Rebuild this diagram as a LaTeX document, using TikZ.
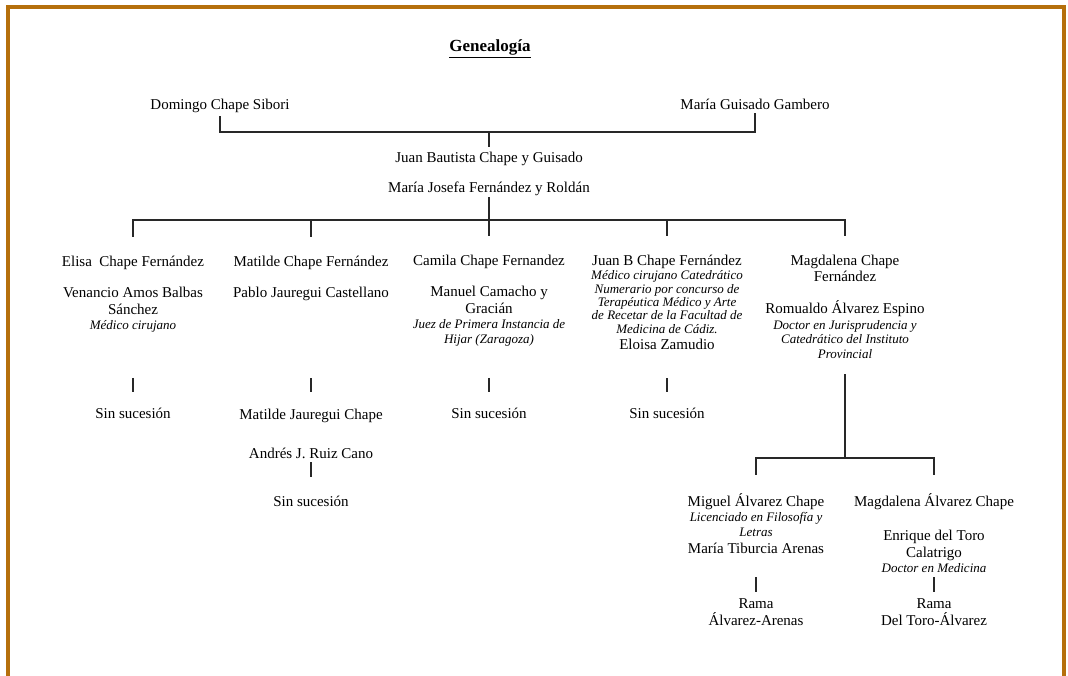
\documentclass[tikz,border=0pt]{standalone}
\usepackage{fontspec}
\setmainfont{Liberation Serif}
\usetikzlibrary{positioning, calc}
\definecolor{framebrown}{RGB}{181,111,12}
\definecolor{inkline}{RGB}{40,40,40}
\tikzset{
  person/.style={font=\fontsize{15}{16.5}\selectfont, align=center,
                 inner sep=1pt, anchor=base},
  note/.style={font=\fontsize{13}{14.5}\selectfont\itshape, align=center,
               inner sep=1pt, anchor=base},
  tie/.style={draw=inkline, line width=1.1pt},
  border/.style={draw=framebrown, line width=4pt}
}

\begin{document}
\begin{tikzpicture}[x=1pt, y=1pt]
  \useasboundingbox (0,0) rectangle (1068,-676);
  \draw[border] (8,-680) -- (8,-7) -- (1063.5,-7) -- (1063.5,-680);

  %% ── Título y primera generación ─────────────────────────
  %% (en nodos de varias líneas, base = última línea)
  \node[font=\fontsize{17}{20}\selectfont\bfseries, anchor=base] (title)
       at (490,-52) {\underline{Genealogía}};
  \node[person] (dom) at (220,-110) {Domingo Chape Sibori};
  \node[person] (mar) at (755,-110) {María Guisado Gambero};
  \coordinate (par) at (489,-132);
  \node[person] (jb) at (489,-163) {Juan Bautista Chape y Guisado};
  \node[person] (mj) at (489,-193) {María Josefa Fernández y Roldán};

  \draw[tie, shorten <=2pt, shorten >=2pt] (dom) |- (par) -| (mar);
  \draw[tie, shorten >=4pt] (par) -- (jb);

  %% ── Hijos ───────────────────────────────────────────────
  \coordinate (kids) at (489,-220);
  \draw[tie] (mj) -- (kids);

  % Elisa
  \node[person] (elisa)      at (133,-267) {Elisa\ \ Chape Fernández};
  \node[person] (venancio)   at (133,-314) {Venancio Amos Balbas\\Sánchez};
  \node[note]   (venancio-d) at (133,-330) {Médico cirujano};
  \node[person] (sin1)       at (133,-418) {Sin sucesión};

  % Matilde
  \node[person] (matilde) at (311,-267) {Matilde Chape Fernández};
  \node[person] (pablo)   at (311,-298) {Pablo Jauregui Castellano};
  \node[person] (mjc)     at (311,-419) {Matilde Jauregui Chape};
  \node[person] (andres)  at (311,-458) {Andrés J. Ruiz Cano};
  \node[person] (sin2)    at (311,-506) {Sin sucesión};

  % Camila
  \node[person] (camila)   at (489,-266) {Camila Chape Fernandez};
  \node[person] (manuel)   at (489,-313) {Manuel Camacho y\\Gracián};
  \node[note]   (manuel-d) at (489,-343) {Juez de Primera Instancia de\\Hijar (Zaragoza)};
  \node[person] (sin3)     at (489,-418) {Sin sucesión};

  % Juan B
  \node[person] (juanb)   at (667,-266) {Juan B Chape Fernández};
  \node[note, font=\fontsize{13}{13.3}\selectfont\itshape] (juanb-d) at (667,-333)
       {Médico cirujano Catedrático\\Numerario por concurso de\\Terapéutica Médico y Arte\\de Recetar de la Facultad de\\Medicina de Cádiz.};
  \node[person] (eloisa)  at (667,-349) {Eloisa Zamudio};
  \node[person] (sin4)    at (667,-418) {Sin sucesión};

  % Magdalena
  \node[person] (magda)      at (845,-282) {Magdalena Chape\\Fernández};
  \node[person] (romualdo)   at (845,-313) {Romualdo Álvarez Espino};
  \node[note]   (romualdo-d) at (845,-358)
       {Doctor en Jurisprudencia y\\Catedrático del Instituto\\Provincial};

  \foreach \c in {elisa, matilde, camila, juanb, magda}
    \draw[tie, shorten >=18pt] (kids) -| (\c);

  \draw[tie, shorten <=44pt, shorten >=14.5pt] (venancio-d) -- (sin1);
  \draw[tie, shorten <=76pt, shorten >=15.5pt] (pablo) -- (mjc);
  \draw[tie, shorten <=3pt, shorten >=17.5pt] (andres) -- (sin2);
  \draw[tie, shorten <=31pt, shorten >=14.5pt] (manuel-d) -- (sin3);
  \draw[tie, shorten <=28pt, shorten >=14.5pt] (eloisa) -- (sin4);

  %% ── Nietos ──────────────────────────────────────────────
  \coordinate (gkids) at (845,-458);
  \draw[tie, shorten <=15pt] (romualdo-d) -- (gkids);

  \node[person] (miguel)   at (756,-506) {Miguel Álvarez Chape};
  \node[note]   (miguel-d) at (756,-536) {Licenciado en Filosofía y\\Letras};
  \node[person] (mariat)   at (756,-553) {María Tiburcia Arenas};
  \node[person] (rama1)    at (756,-625) {Rama\\Álvarez-Arenas};

  \node[person] (magda2)    at (934,-506) {Magdalena Álvarez Chape};
  \node[person] (enrique)   at (934,-557) {Enrique del Toro\\Calatrigo};
  \node[note]   (enrique-d) at (934,-572) {Doctor en Medicina};
  \node[person] (rama2)     at (934,-625) {Rama\\Del Toro-Álvarez};

  \foreach \c in {miguel, magda2}
    \draw[tie, shorten >=16.5pt] (gkids) -| (\c);
  \draw[tie, shorten <=23pt, shorten >=5pt] (mariat) -- (rama1);
  \draw[tie, shorten <=4pt, shorten >=5pt] (enrique-d) -- (rama2);

\end{tikzpicture}
\end{document}
